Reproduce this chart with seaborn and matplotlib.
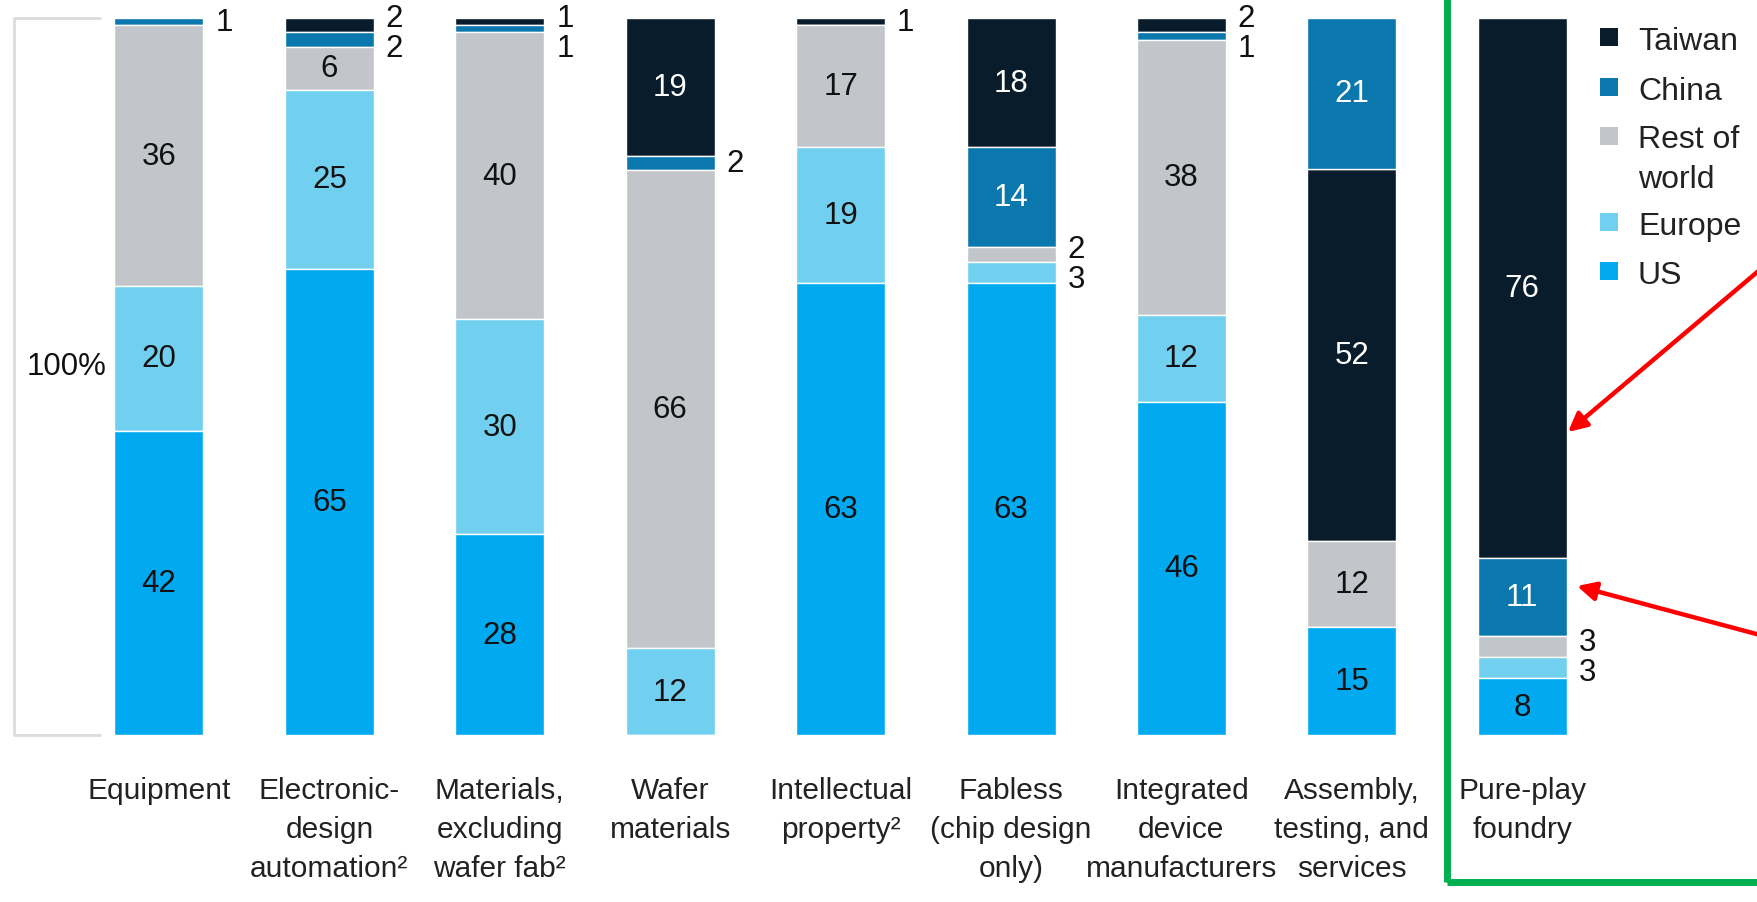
import numpy as np
import pandas as pd
import matplotlib
matplotlib.use("Agg")
import matplotlib.pyplot as plt
from matplotlib.patches import Rectangle
import seaborn as sns

# ---------------- data ----------------
categories = [
    "Equipment",
    "Electronic-\ndesign\nautomation²",
    "Materials,\nexcluding\nwafer fab²",
    "Wafer\nmaterials",
    "Intellectual\nproperty²",
    "Fabless\n(chip design\nonly)",
    "Integrated\ndevice\nmanufacturers",
    "Assembly,\ntesting, and\nservices",
    "Pure-play\nfoundry",
]
taiwan = [0, 2, 1, 19, 1, 18, 2, 52, 76]
china = [1, 2, 1, 2, 0, 14, 1, 21, 11]
rest_of_world = [36, 6, 40, 66, 17, 2, 38, 12, 3]
europe = [20, 25, 30, 12, 19, 3, 12, 0, 3]
us = [42, 65, 28, 0, 63, 63, 46, 15, 8]

series_names = ["Taiwan", "China", "Rest of\nworld", "Europe", "US"]
series_values = [taiwan, china, rest_of_world, europe, us]
colors = ["#081c2c", "#0a77ad", "#c2c6ca", "#71d0f0", "#00a9f0"]
label_colors = ["white", "white", "#111111", "#111111", "#111111"]

# stacking order from the bottom (China above Taiwan for assembly/testing)
default_order = ["US", "Europe", "Rest of\nworld", "China", "Taiwan"]
china_top_categories = ["Assembly,\ntesting, and\nservices"]
alt_order = ["US", "Europe", "Rest of\nworld", "Taiwan", "China"]

# ---------------- fonts ----------------
sns.set_theme(style="white")
plt.rcParams["font.family"] = ["Liberation Sans", "DejaVu Sans"]

W, H = 1757, 903
fig = plt.figure(figsize=(W / 100, H / 100), dpi=100)
ax = fig.add_axes([0, 0, 1, 1])

# pixel mapping (figure pixels from the left / from the top)
x0_px, step_px = 159.0, 170.4
y100_px, y0_px = 19.0, 736.0
ppu = (y0_px - y100_px) / 100.0
bar_w = 89 / step_px

# each bar is shown as a 100% stack
idx = {n: i for i, n in enumerate(series_names)}
totals = np.sum(np.array(series_values, dtype=float), axis=0)
scaled = {n: np.array(series_values[idx[n]], dtype=float) * 100.0 / totals
          for n in series_names}
bottoms = {n: np.zeros(len(categories)) for n in series_names}
for ci, cat in enumerate(categories):
    order = alt_order if cat in china_top_categories else default_order
    cum = 0.0
    for n in order:
        bottoms[n][ci] = cum
        cum += scaled[n][ci]

for n, col in zip(series_names, colors):
    df = pd.DataFrame({"cat": categories, "val": scaled[n]})
    sns.barplot(data=df, x="cat", y="val", order=categories, color=col,
                width=bar_w, bottom=bottoms[n], ax=ax, label=n,
                edgecolor="white", linewidth=1.0, saturation=1, errorbar=None)

ax.set_xlim((0 - x0_px) / step_px, (W - x0_px) / step_px)
ax.set_ylim(-(H - y0_px) / ppu, 100 + y100_px / ppu)
ax.set_axis_off()
if ax.get_legend() is not None:
    ax.get_legend().remove()

# ---------------- value labels ----------------
val_fs = 22.5
for ci, cat in enumerate(categories):
    small = []
    for n, vals, lc in zip(series_names, series_values, label_colors):
        v = vals[ci]
        if v <= 0:
            continue
        b = bottoms[n][ci]
        h = scaled[n][ci]
        if v >= 5:
            ax.text(ci, b + h / 2, f"{v}", ha="center", va="center",
                    fontsize=val_fs, color=lc)
        else:
            small.append([b + h / 2, v])
    small.sort(key=lambda s: -s[0])
    ys = [s[0] for s in small]
    gap = 4.2
    for _ in range(10):
        for k in range(len(ys) - 1):
            if ys[k] - ys[k + 1] < gap:
                m = (ys[k] + ys[k + 1]) / 2
                ys[k], ys[k + 1] = m + gap / 2, m - gap / 2
    if ys and ys[0] > 100.0:
        shift = ys[0] - 100.0
        ys = [y - shift for y in ys]
    for (c, v), y in zip(small, ys):
        ax.text(ci + bar_w / 2 + 0.07, y, f"{v}", ha="left", va="center",
                fontsize=val_fs, color="#111111")

# category labels
cat_y = -(777 - y0_px) / ppu
for ci, cat in enumerate(categories):
    ax.text(ci, cat_y, cat, ha="center", va="top", fontsize=21.5,
            color="#222222", linespacing=1.5)

# 100% bracket
br_col = "#dcdcdc"
xl = (14 - x0_px) / step_px
xr = (101 - x0_px) / step_px
ax.plot([xr, xl, xl, xr], [100, 100, 0, 0], color=br_col, lw=2, solid_capstyle="butt")
ax.text((67 - x0_px) / step_px, (y0_px - 367) / ppu, "100%", ha="center",
        va="center", fontsize=val_fs, color="#111111")

# legend (square markers + labels placed in figure pixels)
leg_rows = {"Taiwan": 38, "China": 88, "Rest of\nworld": 137, "Europe": 223, "US": 272}
sq = 18
for n, col in zip(series_names, colors):
    yc = leg_rows[n]
    fig.add_artist(Rectangle(((1600) / W, (H - yc - sq / 2) / H), sq / W, sq / H,
                             transform=fig.transFigure, facecolor=col,
                             edgecolor="none"))
    lines = n.split("\n")
    for li, line in enumerate(lines):
        fig.text(1638 / W, (H - (yc + li * 40)) / H, line, ha="left",
                 va="center_baseline", fontsize=23, color="#222222")

# green highlight frame
fig.add_artist(Rectangle((1447 / W, (H - 883) / H), (W + 20 - 1447) / W,
                         (883 + 20) / H, transform=fig.transFigure, fill=False,
                         edgecolor="#00b050", linewidth=5.0))

# red arrows
for tail, tip in [((1775, 258), (1568, 433)), ((1775, 640), (1577, 587))]:
    ax.annotate("", xy=(tip[0], H - tip[1]), xytext=(tail[0], H - tail[1]),
                xycoords="figure pixels", textcoords="figure pixels",
                arrowprops=dict(arrowstyle="-|>", color="#ff0000", lw=3.2,
                                mutation_scale=28, shrinkA=0, shrinkB=0))

fig.savefig("out.png", dpi=100)
